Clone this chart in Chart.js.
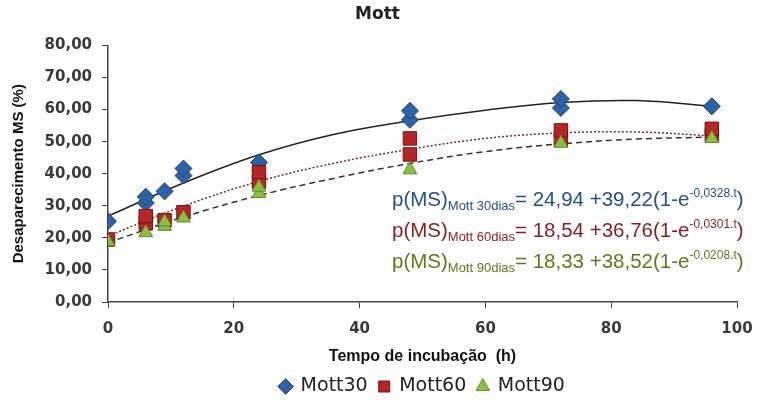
<!DOCTYPE html>
<html>
<head>
<meta charset="utf-8">
<script src="https://cdn.jsdelivr.net/npm/chart.js@4"></script>
<style>
  html, body { margin: 0; padding: 0; background: #fff; }
  #wrap { width: 758px; height: 406px; }
</style>
</head>
<body>
<div id="wrap"><canvas id="grafico" width="758" height="406"></canvas></div>
<script>
// --- Dados ---
const tempo30 = [0, 6, 6, 9, 12, 12, 24, 48, 48, 72, 72, 96];
const mott30 = [25.2, 30.9, 32.8, 34.5, 39.4, 41.6, 43.5, 56.8, 59.6, 60.5, 63.3, 61.0];

const tempo60 = [0, 6, 6, 9, 12, 24, 24, 48, 48, 72, 72, 96, 96];
const mott60 = [19.5, 24.5, 26.8, 25.5, 28.0, 37.5, 40.5, 46.0, 51.0, 50.5, 53.5, 52.0, 54.0];

const tempo90 = [0, 6, 9, 9, 12, 24, 24, 48, 72, 96];
const mott90 = [18.8, 21.6, 23.6, 25.0, 26.2, 33.8, 35.8, 41.2, 49.5, 51.0];

// linhas de tendência
const tempoCurva = [0, 12, 24, 36, 48, 60, 72, 84, 96];
const curva30 = [26.8, 37.1, 45.9, 52.3, 56.5, 59.8, 62.2, 62.8, 61.0];
const curva60 = [20.6, 29.9, 37.6, 43.3, 47.6, 51.0, 52.7, 53.0, 51.8];
const curva90 = [18.5, 26.5, 33.2, 38.6, 43.2, 46.9, 49.3, 50.8, 51.4];

const ticksY = [0, 10, 20, 30, 40, 50, 60, 70, 80];
const ticksX = [0, 20, 40, 60, 80, 100];

const equacoes = [
    { sub: 'Mott 30dias', corpo: '= 24,94 +39,22(1-e', exp: '-0,0328.t', cor: '#1f4f94' },
    { sub: 'Mott 60dias', corpo: '= 18,54 +36,76(1-e', exp: '-0,0301.t', cor: '#8c1c1c' },
    { sub: 'Mott 90dias', corpo: '= 18,33 +38,52(1-e', exp: '-0,0208.t', cor: '#5f7a1c' }
];

const pares = (xs, ys) => xs.map((x, i) => ({ x: x, y: ys[i] }));

// Plugin simples para escrever as equações
const pluginEquacoes = {
    id: 'equacoes',
    afterDatasetsDraw(chart) {
        const ctx = chart.ctx;
        const baseY = [206, 237, 268];
        ctx.save();
        ctx.textBaseline = 'alphabetic';
        equacoes.forEach((eq, i) => {
            let x = 392;
            const y = baseY[i];
            ctx.fillStyle = eq.cor;
            ctx.font = '20.5px "Liberation Sans", Arial, sans-serif';
            ctx.fillText('p(MS)', x, y);
            x += ctx.measureText('p(MS)').width;
            ctx.font = '13px "Liberation Sans", Arial, sans-serif';
            ctx.fillText(eq.sub, x, y + 4);
            x += ctx.measureText(eq.sub).width;
            ctx.font = '20.5px "Liberation Sans", Arial, sans-serif';
            ctx.fillText(eq.corpo, x, y);
            x += ctx.measureText(eq.corpo).width;
            ctx.font = '12px "Liberation Sans", Arial, sans-serif';
            ctx.fillText(eq.exp, x, y - 9);
            x += ctx.measureText(eq.exp).width;
            ctx.font = '20.5px "Liberation Sans", Arial, sans-serif';
            ctx.fillText(')', x, y);
        });
        ctx.restore();
    }
};

const fonteTick = { family: '"DejaVu Sans", Verdana, sans-serif', size: 15, weight: 'bold' };

new Chart(document.getElementById('grafico'), {
    type: 'scatter',
    data: {
        datasets: [
            { label: 'Mott30', data: pares(tempo30, mott30), pointStyle: 'rectRot', pointRadius: 8.5,
              backgroundColor: '#2d62a8', borderColor: '#1d3f75', borderWidth: 1, order: 3 },
            { label: 'Mott60', data: pares(tempo60, mott60), pointStyle: 'rect', pointRadius: 9.5,
              backgroundColor: '#b52626', borderColor: '#7a1010', borderWidth: 1, order: 2 },
            { label: 'Mott90', data: pares(tempo90, mott90), pointStyle: 'triangle', pointRadius: 8,
              backgroundColor: '#8cbf42', borderColor: '#5f8a26', borderWidth: 1, order: 1 },
            { label: 'tend30', data: pares(tempoCurva, curva30), showLine: true, pointRadius: 0,
              borderColor: '#222', borderWidth: 1.5, tension: 0.4, order: 4 },
            { label: 'tend60', data: pares(tempoCurva, curva60), showLine: true, pointRadius: 0,
              borderColor: '#7a2a2a', borderWidth: 1.5, borderDash: [2, 2], tension: 0.4, order: 4 },
            { label: 'tend90', data: pares(tempoCurva, curva90), showLine: true, pointRadius: 0,
              borderColor: '#333', borderWidth: 1.5, borderDash: [6, 4], tension: 0.4, order: 4 }
        ]
    },
    options: {
        responsive: false,
        animation: false,
        layout: { padding: { left: 18, right: 21, top: 0, bottom: 0 } },
        plugins: {
            title: {
                display: true,
                text: 'Mott',
                color: '#222',
                font: { family: '"DejaVu Sans", Verdana, sans-serif', size: 17, weight: 'bold' },
                padding: { top: 4, bottom: 21 }
            },
            legend: {
                position: 'bottom',
                fullSize: false,
                labels: {
                    usePointStyle: true,
                    color: '#222',
                    font: { family: '"DejaVu Sans", Verdana, sans-serif', size: 19 },
                    padding: 11,
                    boxWidth: 11,
                    boxHeight: 11,
                    filter: item => item.datasetIndex < 3,
                    sort: (a, b) => a.datasetIndex - b.datasetIndex
                }
            },
            tooltip: { enabled: false }
        },
        scales: {
            x: {
                type: 'linear',
                min: 0, max: 100,
                afterBuildTicks: scale => { scale.ticks = ticksX.map(v => ({ value: v })); },
                afterFit: scale => { scale.height = 64; scale.paddingRight = 8; scale.paddingLeft = 8; },
                ticks: { color: '#3a3a3a', font: fonteTick, padding: 12 },
                grid: { drawOnChartArea: false, drawTicks: true, tickLength: 6, color: '#444' },
                border: { color: '#444', width: 1.5 },
                title: {
                    display: true,
                    text: 'Tempo de incubação  (h)',
                    color: '#111',
                    font: { family: '"Liberation Sans", Arial, sans-serif', size: 16, weight: 'bold' },
                    padding: { top: 0, bottom: 0 }
                }
            },
            y: {
                min: 0, max: 80,
                afterBuildTicks: scale => { scale.ticks = ticksY.map(v => ({ value: v })); },
                afterFit: scale => { scale.width = 90; },
                ticks: {
                    color: '#3a3a3a', font: fonteTick, padding: 10,
                    callback: v => v.toFixed(2).replace('.', ',')
                },
                grid: { drawOnChartArea: false, drawTicks: true, tickLength: 6, color: '#444' },
                border: { color: '#444', width: 1.5 },
                title: {
                    display: true,
                    text: 'Desaparecimento MS (%)',
                    color: '#111',
                    font: { family: '"Liberation Sans", Arial, sans-serif', size: 15, weight: 'bold' },
                    padding: { top: -8, bottom: 0 }
                }
            }
        }
    },
    plugins: [pluginEquacoes]
});
</script>
</body>
</html>
